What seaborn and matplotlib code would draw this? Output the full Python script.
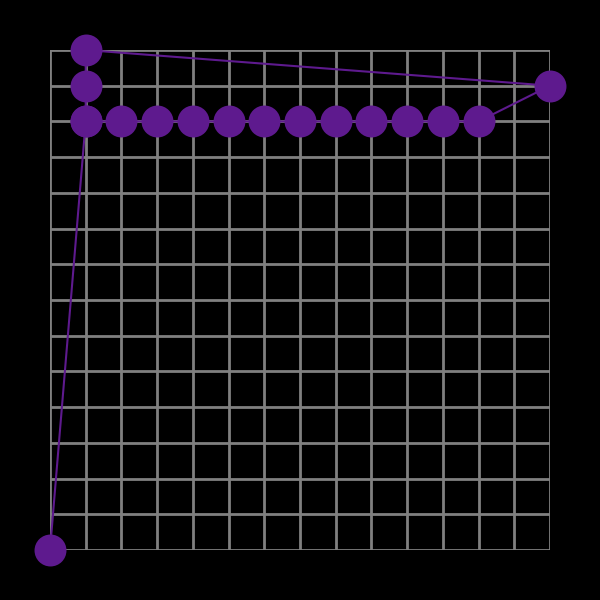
import matplotlib
matplotlib.use("Agg")
import matplotlib.pyplot as plt
import seaborn as sns
import numpy as np

# path of the points (grid units)
xs = [0, 1, 1, 1, 14, 12, 11, 10, 9, 8, 7, 6, 5, 4, 3, 2, 1]
ys = [0, 12, 13, 14, 13, 12, 12, 12, 12, 12, 12, 12, 12, 12, 12, 12, 12]

purple = "#5e1a8e"

sns.set_style("dark")
fig = plt.figure(figsize=(6, 6), dpi=100, facecolor="black")
ax = fig.add_axes([50 / 600, 50 / 600, 500 / 600, 500 / 600])
ax.set_facecolor("black")

sns.lineplot(x=xs, y=ys, sort=False, ax=ax, color=purple, linewidth=1.5,
             marker="o", markersize=23, markeredgewidth=0, estimator=None,
             clip_on=False, zorder=3)

ax.set_xlim(0, 14)
ax.set_ylim(0, 14)
ax.set_xticks(np.arange(0, 15))
ax.set_yticks(np.arange(0, 15))
ax.grid(True, color="#808080", linewidth=2)
ax.tick_params(length=0, labelbottom=False, labelleft=False)
for s in ax.spines.values():
    s.set_visible(False)
ax.set_xlabel("")
ax.set_ylabel("")

fig.savefig("out.png", dpi=100, facecolor="black")
